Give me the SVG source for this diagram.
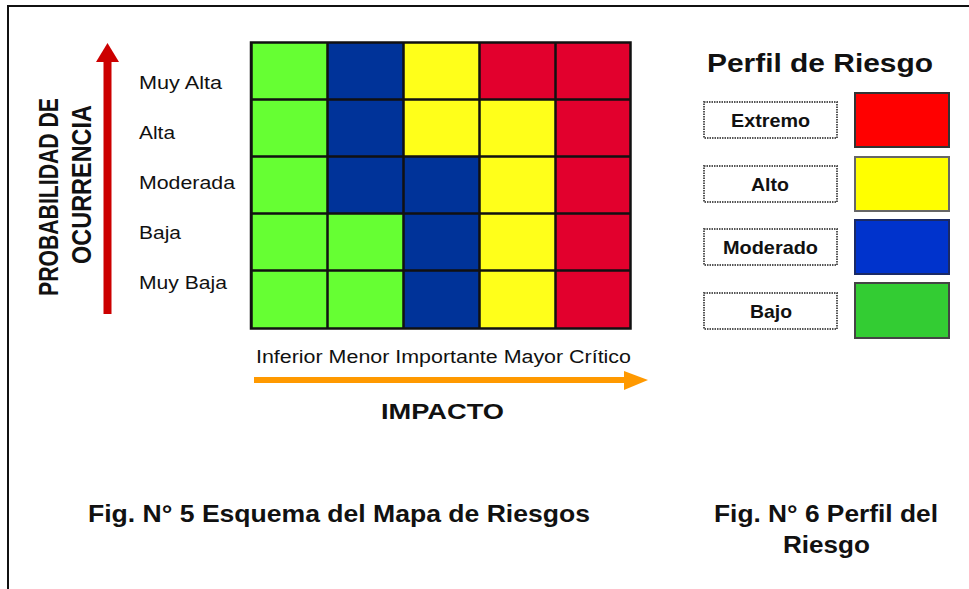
<svg xmlns="http://www.w3.org/2000/svg" width="969" height="589" viewBox="0 0 969 589">
<style>
text{font-family:"Liberation Sans",Arial,sans-serif;fill:#111}
.l{font-size:17.5px}
.cap{font-size:24px;font-weight:bold}
.ax{font-size:22px;font-weight:bold}
.v{font-size:27px;font-weight:bold}
.g{fill:#66ff33}.n{fill:#003399}.y{fill:#ffff1a}.r{fill:#e2002d}
.grid{stroke:#111;stroke-width:2.500;fill:none}
.dot{fill:#fff;stroke:#555;stroke-width:2;stroke-dasharray:1.500 1}
.sw{stroke-width:2}
.pl{font-size:19px;font-weight:bold}
</style>
<rect width="969" height="589" fill="#fff"/>
<path d="M8 589V6H969" fill="none" stroke="#111" stroke-width="2"/>
<g id="matrix">
<rect class="g" x="252" y="43" width="76" height="57"/><rect class="n" x="328" y="43" width="76" height="57"/><rect class="y" x="404" y="43" width="76" height="57"/><rect class="r" x="480" y="43" width="76" height="57"/><rect class="r" x="556" y="43" width="74" height="57"/>
<rect class="g" x="252" y="100" width="76" height="57"/><rect class="n" x="328" y="100" width="76" height="57"/><rect class="y" x="404" y="100" width="76" height="57"/><rect class="y" x="480" y="100" width="76" height="57"/><rect class="r" x="556" y="100" width="74" height="57"/>
<rect class="g" x="252" y="157" width="76" height="57"/><rect class="n" x="328" y="157" width="76" height="57"/><rect class="n" x="404" y="157" width="76" height="57"/><rect class="y" x="480" y="157" width="76" height="57"/><rect class="r" x="556" y="157" width="74" height="57"/>
<rect class="g" x="252" y="214" width="76" height="57"/><rect class="g" x="328" y="214" width="76" height="57"/><rect class="n" x="404" y="214" width="76" height="57"/><rect class="y" x="480" y="214" width="76" height="57"/><rect class="r" x="556" y="214" width="74" height="57"/>
<rect class="g" x="252" y="271" width="76" height="58"/><rect class="g" x="328" y="271" width="76" height="58"/><rect class="n" x="404" y="271" width="76" height="58"/><rect class="y" x="480" y="271" width="76" height="58"/><rect class="r" x="556" y="271" width="74" height="58"/>
<path class="grid" d="M251 42.500H630.500V328.500H251ZM251.500 42V329M327.500 42V329M403.500 42V329M479.500 42V329M555.500 42V329M251 99.500H630M251 156.500H630M251 213.500H630M251 270.500H630"/>
</g>
<g id="prob-labels">
<text class="l" x="139" y="89" textLength="83" lengthAdjust="spacingAndGlyphs">Muy Alta</text>
<text class="l" x="139" y="139" textLength="36" lengthAdjust="spacingAndGlyphs">Alta</text>
<text class="l" x="139" y="189" textLength="96" lengthAdjust="spacingAndGlyphs">Moderada</text>
<text class="l" x="139" y="239" textLength="42" lengthAdjust="spacingAndGlyphs">Baja</text>
<text class="l" x="139" y="289" textLength="88" lengthAdjust="spacingAndGlyphs">Muy Baja</text>
</g>
<g id="impact-labels">
<text class="l" x="256" y="363" textLength="375" lengthAdjust="spacingAndGlyphs">Inferior Menor Importante Mayor Crítico</text>
</g>
<g id="connectors">
<path d="M107.500 314V62" stroke="#cc0000" stroke-width="8" fill="none"/>
<path d="M107.500 43L119 62H96Z" fill="#cc0000"/>
<path d="M254 380H625" stroke="#ff9900" stroke-width="6" fill="none"/>
<path d="M648 380L624 371V390Z" fill="#ff9900"/>
</g>
<g id="axis-titles">
<text class="v" transform="translate(58 296) rotate(-90)" textLength="198" lengthAdjust="spacingAndGlyphs">PROBABILIDAD DE</text>
<text class="v" transform="translate(91 264) rotate(-90)" textLength="159" lengthAdjust="spacingAndGlyphs">OCURRENCIA</text>
<text class="ax" x="381" y="419" textLength="123" lengthAdjust="spacingAndGlyphs">IMPACTO</text>
</g>
<g id="profile">
<text x="707" y="72" font-size="25" font-weight="bold" textLength="226" lengthAdjust="spacingAndGlyphs">Perfil de Riesgo</text>
<g id="extremo"><rect class="dot" x="704" y="102" width="133" height="36"/><text class="pl" x="731" y="127" textLength="79" lengthAdjust="spacingAndGlyphs">Extremo</text><rect class="sw" x="855" y="93" width="94" height="54" fill="#ff0000" stroke="#333"/></g>
<g id="alto"><rect class="dot" x="704" y="166" width="133" height="36"/><text class="pl" x="751" y="191" textLength="38" lengthAdjust="spacingAndGlyphs">Alto</text><rect class="sw" x="855" y="157" width="94" height="54" fill="#ffff00" stroke="#666"/></g>
<g id="moderado"><rect class="dot" x="704" y="229" width="133" height="36"/><text class="pl" x="723" y="254" textLength="95" lengthAdjust="spacingAndGlyphs">Moderado</text><rect class="sw" x="855" y="220" width="94" height="54" fill="#0033cc" stroke="#1a2a66"/></g>
<g id="bajo"><rect class="dot" x="704" y="293" width="133" height="36"/><text class="pl" x="750" y="318" textLength="42" lengthAdjust="spacingAndGlyphs">Bajo</text><rect class="sw" x="855" y="283" width="94" height="55" fill="#33cc33" stroke="#444"/></g>
</g>
<g id="captions">
<text class="cap" x="88" y="522" textLength="502" lengthAdjust="spacingAndGlyphs">Fig. N° 5 Esquema del Mapa de Riesgos</text>
<text class="cap" x="714" y="522" textLength="224" lengthAdjust="spacingAndGlyphs">Fig. N° 6 Perfil del</text>
<text class="cap" x="783" y="553" textLength="87" lengthAdjust="spacingAndGlyphs">Riesgo</text>
</g>
</svg>
